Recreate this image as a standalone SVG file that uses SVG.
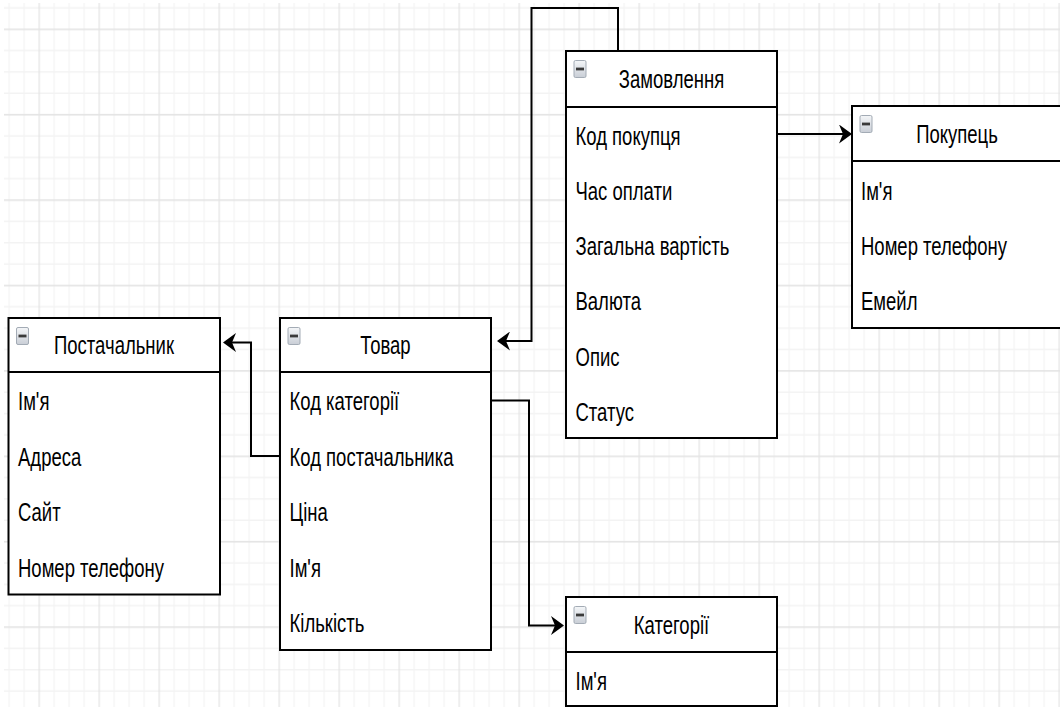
<svg xmlns="http://www.w3.org/2000/svg" width="1060" height="707" viewBox="0 0 1060 707">
  <style>
    .box { fill: #ffffff; stroke: #000000; stroke-width: 2; }
    .div { stroke: #000000; stroke-width: 2; fill: none; }
    .t { font-family: "Liberation Sans", Arial, sans-serif; font-size: 18.5px; fill: #000000; }
    .ttl { text-anchor: middle; }
    .conn { fill: none; stroke: #000000; stroke-width: 2; }
    .minor { fill: #f3f3f3; }
    .major { fill: #e4e4e4; }
  </style>
  <defs>
    <pattern id="grid" patternUnits="userSpaceOnUse" x="-21.5" y="-56.9" width="60" height="85.4">
      <rect class="minor" x="15" y="0" width="1.2" height="85.4"/>
      <rect class="minor" x="30" y="0" width="1.2" height="85.4"/>
      <rect class="minor" x="45" y="0" width="1.2" height="85.4"/>
      <rect class="minor" x="0" y="21.35" width="60" height="1.5"/>
      <rect class="minor" x="0" y="42.7" width="60" height="1.5"/>
      <rect class="minor" x="0" y="64.05" width="60" height="1.5"/>
      <rect class="major" x="0" y="0" width="1.3" height="85.4"/>
      <rect class="major" x="0" y="0" width="60" height="1.6"/>
    </pattern>
    <linearGradient id="icoGrad" x1="0" y1="0" x2="0" y2="1">
      <stop offset="0" stop-color="#f4f6f8"/>
      <stop offset="1" stop-color="#c9ced6"/>
    </linearGradient>
    <symbol id="icon" viewBox="0 0 13 18" overflow="visible">
      <rect x="0.5" y="0.5" width="12" height="17" rx="1.5" fill="url(#icoGrad)" stroke="#a3abb5" stroke-width="1"/>
      <rect x="2.5" y="7.6" width="8" height="2.8" fill="#3a3a3a"/>
    </symbol>
    <marker id="arr" markerUnits="userSpaceOnUse" viewBox="0 0 13 19" markerWidth="13" markerHeight="19" refX="4" refY="9.5" orient="auto">
      <path d="M13,9.5 L0,0 L4,9.5 L0,19 Z" fill="#000000"/>
    </marker>
  </defs>

  <rect x="0" y="0" width="1060" height="707" fill="#ffffff"/>
  <rect x="4" y="3" width="1056" height="704" fill="url(#grid)"/>

  <g id="connectors">
    <path class="conn" d="M618,51 V8 H531.5 V341 H506" marker-end="url(#arr)"/>
    <path class="conn" d="M777,134 H843" marker-end="url(#arr)"/>
    <path class="conn" d="M280,456 H251 V342.5 H232" marker-end="url(#arr)"/>
    <path class="conn" d="M491,400.5 H529 V625.5 H555" marker-end="url(#arr)"/>
  </g>

  <g id="zamovlennia">
    <rect class="box" x="566" y="51" width="211" height="387"/>
    <line class="div" x1="566" y1="107" x2="777" y2="107"/>
    <use href="#icon" x="573.5" y="60" width="13" height="18"/>
    <text class="t ttl" transform="matrix(1 0 0 1.36 671.5 88)">Замовлення</text>
    <text class="t" transform="matrix(1 0 0 1.36 575.5 144.5)">Код покупця</text>
    <text class="t" transform="matrix(1 0 0 1.36 575.5 199.7)">Час оплати</text>
    <text class="t" transform="matrix(1 0 0 1.36 575.5 255)">Загальна вартість</text>
    <text class="t" transform="matrix(1 0 0 1.36 575.5 310.2)">Валюта</text>
    <text class="t" transform="matrix(1 0 0 1.36 575.5 365.5)">Опис</text>
    <text class="t" transform="matrix(1 0 0 1.36 575.5 420.7)">Статус</text>
  </g>

  <g id="pokupets">
    <rect class="box" x="852" y="106" width="212" height="222"/>
    <line class="div" x1="852" y1="161" x2="1064" y2="161"/>
    <use href="#icon" x="859.5" y="115" width="13" height="18"/>
    <text class="t ttl" transform="matrix(1 0 0 1.36 957 143)">Покупець</text>
    <text class="t" transform="matrix(1 0 0 1.36 861 199.5)">Ім'я</text>
    <text class="t" transform="matrix(1 0 0 1.36 861 255)">Номер телефону</text>
    <text class="t" transform="matrix(1 0 0 1.36 861 310)">Емейл</text>
  </g>

  <g id="postachalnyk">
    <rect class="box" x="8.5" y="318" width="211.5" height="276.5"/>
    <line class="div" x1="8.5" y1="372" x2="220" y2="372"/>
    <use href="#icon" x="16" y="327" width="13" height="18"/>
    <text class="t ttl" transform="matrix(1 0 0 1.36 114 354)">Постачальник</text>
    <text class="t" transform="matrix(1 0 0 1.36 18 410)">Ім'я</text>
    <text class="t" transform="matrix(1 0 0 1.36 18 465.5)">Адреса</text>
    <text class="t" transform="matrix(1 0 0 1.36 18 521)">Сайт</text>
    <text class="t" transform="matrix(1 0 0 1.36 18 576.5)">Номер телефону</text>
  </g>

  <g id="tovar">
    <rect class="box" x="280" y="318" width="211" height="332"/>
    <line class="div" x1="280" y1="372" x2="491" y2="372"/>
    <use href="#icon" x="287.5" y="327" width="13" height="18"/>
    <text class="t ttl" transform="matrix(1 0 0 1.36 385.5 354)">Товар</text>
    <text class="t" transform="matrix(1 0 0 1.36 289.5 410)">Код категорії</text>
    <text class="t" transform="matrix(1 0 0 1.36 289.5 465.5)">Код постачальника</text>
    <text class="t" transform="matrix(1 0 0 1.36 289.5 521)">Ціна</text>
    <text class="t" transform="matrix(1 0 0 1.36 289.5 576.5)">Ім'я</text>
    <text class="t" transform="matrix(1 0 0 1.36 289.5 632)">Кількість</text>
  </g>

  <g id="katehorii">
    <rect class="box" x="566" y="597" width="211" height="109"/>
    <line class="div" x1="566" y1="652" x2="777" y2="652"/>
    <use href="#icon" x="573.5" y="606" width="13" height="18"/>
    <text class="t ttl" transform="matrix(1 0 0 1.36 671.5 634)">Категорії</text>
    <text class="t" transform="matrix(1 0 0 1.36 575.5 690)">Ім'я</text>
  </g>
</svg>
